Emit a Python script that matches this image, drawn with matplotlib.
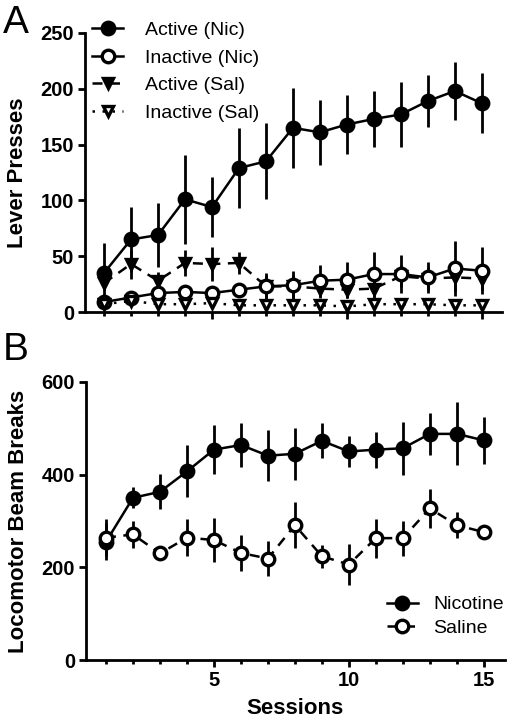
import numpy as np
import matplotlib
matplotlib.use("Agg")
import matplotlib.pyplot as plt
from matplotlib.ticker import MultipleLocator, FixedLocator

plt.rcParams['font.family'] = ['Liberation Sans', 'DejaVu Sans']

sessions = np.arange(1, 16)

# Panel A: lever presses
active_nic = [35, 65, 69, 101, 94, 129, 135, 165, 161, 168, 173, 177, 189, 198, 187]
active_nic_err = [27, 29, 29, 40, 27, 36, 34, 36, 29, 26, 25, 29, 23, 26, 27]
inactive_nic = [9, 13, 17, 18, 17, 20, 23, 24, 28, 29, 34, 34, 31, 39, 37]
inactive_nic_err = [3, 4, 5, 5, 4, 5, 12, 13, 14, 16, 20, 17, 14, 25, 21]
active_sal = [26, 43, 28, 44, 43, 44, 23, 23, 21, 20, 21, 32, 30, 31, 30]
active_sal_err = [5, 13, 8, 12, 15, 10, 10, 10, 8, 7, 8, 10, 10, 12, 10]
inactive_sal = [7, 10, 7, 7, 8, 6, 6, 6, 6, 5, 7, 7, 7, 6, 6]
inactive_sal_err = [2, 3, 2, 2, 2, 2, 2, 2, 2, 2, 2, 2, 2, 2, 2]
labels_a = ['Active (Nic)', 'Inactive (Nic)', 'Active (Sal)', 'Inactive (Sal)']

# Panel B: locomotor activity
nicotine = [255, 350, 363, 407, 454, 464, 441, 445, 473, 450, 454, 457, 488, 488, 474]
nicotine_err = [40, 23, 38, 56, 53, 47, 55, 56, 38, 34, 39, 57, 46, 68, 51]
saline = [264, 271, 230, 264, 259, 231, 219, 291, 224, 206, 263, 263, 327, 291, 276]
saline_err = [40, 29, 12, 40, 47, 39, 38, 50, 25, 44, 42, 38, 43, 28, 12]
labels_b = ['Nicotine', 'Saline']

fig = plt.figure(figsize=(5.12, 7.28), dpi=100)
axA = fig.add_axes([0.166, 0.5714, 0.814, 0.3833])
axB = fig.add_axes([0.168, 0.0934, 0.818, 0.3819])

lw = 1.8
mew = 2.4


def style_axis(ax):
    for s in ['top', 'right']:
        ax.spines[s].set_visible(False)
    for s in ['left', 'bottom']:
        ax.spines[s].set_linewidth(2)
    ax.tick_params(axis='both', which='major', direction='out', width=2, length=5,
                   labelsize=14.5, pad=3)
    ax.tick_params(axis='x', which='minor', direction='out', width=2, length=3)
    for lab in ax.get_xticklabels() + ax.get_yticklabels():
        lab.set_fontweight('bold')


def eb(ax, y, err, marker, face, ls, z, ms=9):
    c = ax.errorbar(sessions, y, yerr=err, color='black', marker=marker,
                    markersize=ms, markerfacecolor=face, markeredgecolor='black',
                    markeredgewidth=mew, linestyle=ls, linewidth=lw,
                    elinewidth=2, capsize=0, zorder=z, clip_on=False)
    return c[0]


hA = [
    eb(axA, active_nic, active_nic_err, 'o', 'black', '-', 4),
    eb(axA, inactive_nic, inactive_nic_err, 'o', 'white', '-', 5),
    eb(axA, active_sal, active_sal_err, 'v', 'black', (0, (4, 3)), 3, ms=7),
    eb(axA, inactive_sal, inactive_sal_err, 'v', 'white', (0, (1, 3)), 6, ms=7),
]
axA.set_xlim(0.294, 15.74)
axA.set_ylim(0, 250)
axA.yaxis.set_major_locator(MultipleLocator(50))
axA.xaxis.set_major_locator(FixedLocator([5, 10, 15]))
axA.xaxis.set_minor_locator(FixedLocator(sessions))
axA.set_xticklabels([])
axA.set_ylabel('Lever Presses', fontsize=16, fontweight='bold', labelpad=9)
style_axis(axA)
axA.legend(hA, labels_a, loc='upper left', bbox_to_anchor=(-0.025, 1.105), frameon=False,
           fontsize=14, handlelength=1.6, handletextpad=1.1, labelspacing=0.52)

hB = [
    eb(axB, nicotine, nicotine_err, 'o', 'black', '-', 4),
    eb(axB, saline, saline_err, 'o', 'white', (0, (4, 3)), 5),
]
axB.set_xlim(0.26, 15.78)
axB.set_ylim(0, 600)
axB.yaxis.set_major_locator(MultipleLocator(200))
axB.xaxis.set_major_locator(FixedLocator([5, 10, 15]))
axB.xaxis.set_minor_locator(FixedLocator(sessions))
axB.set_xlabel('Sessions', fontsize=16, fontweight='bold', labelpad=6)
axB.set_ylabel('Locomotor Beam Breaks', fontsize=16, fontweight='bold', labelpad=9)
style_axis(axB)
axB.legend(hB, labels_b, loc='lower right', bbox_to_anchor=(1.04, 0.02), frameon=False,
           fontsize=14, handlelength=1.6, handletextpad=0.8, labelspacing=0.3)

fig.text(0.006, 0.955, 'A', fontsize=28)
fig.text(0.006, 0.505, 'B', fontsize=28)

fig.savefig('out.png', dpi=100)
